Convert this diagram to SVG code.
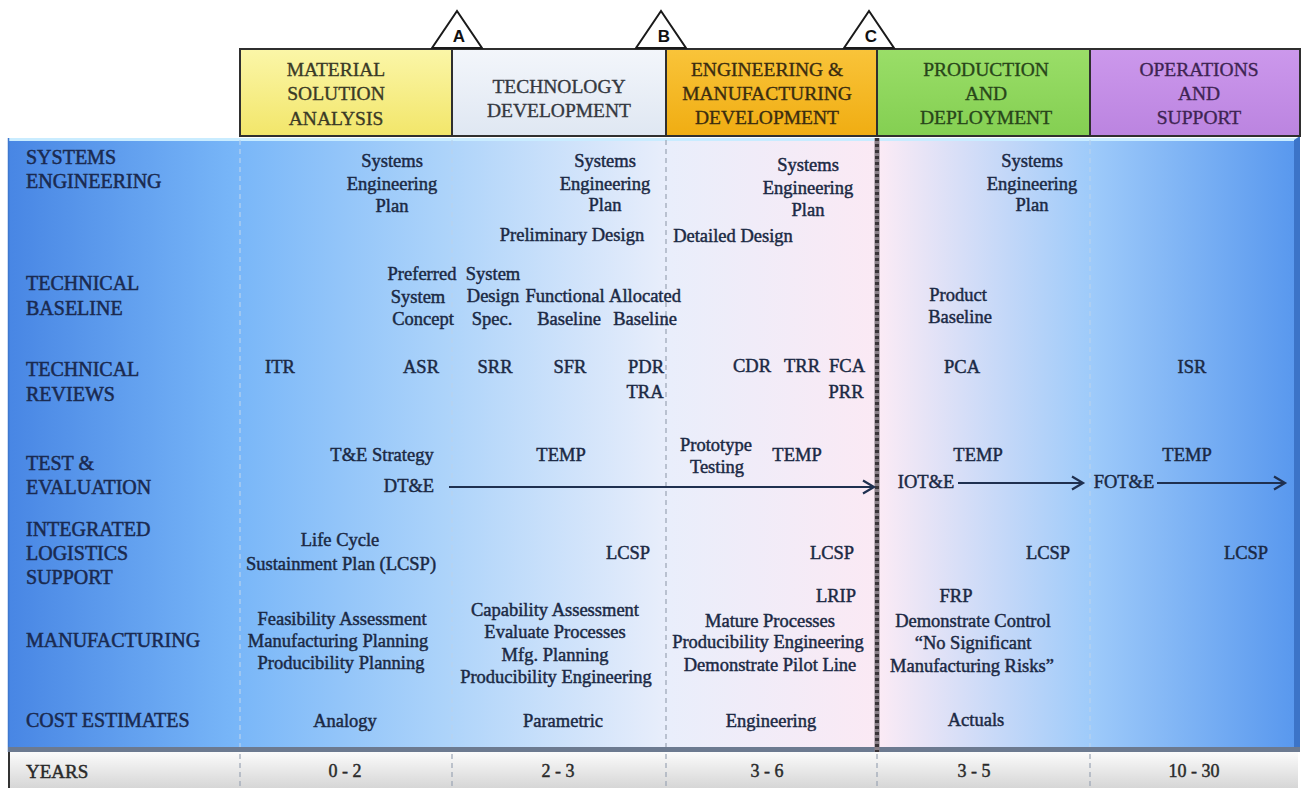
<svg xmlns="http://www.w3.org/2000/svg" width="1303" height="788" viewBox="0 0 1303 788" font-family="'Liberation Serif', 'Times New Roman', serif">
  <defs>
    <style>
      text { font-family: "Liberation Serif", "Times New Roman", serif; }
      .lbl { font-size: 20px; fill: #1a2a50; stroke: #1a2a50; stroke-width: 0.5; }
      .txt { font-size: 18.5px; fill: #1b2944; text-anchor: middle; stroke: #1b2944; stroke-width: 0.45; }
      .hdr { font-size: 19.5px; text-anchor: middle; stroke-width: 0.35; }
      .yr { font-size: 18px; fill: #2a2a2a; text-anchor: middle; stroke: #2a2a2a; stroke-width: 0.45; }
      .box { stroke: #2f2f2f; stroke-width: 2; }
      .tri { fill: #ffffff; stroke: #1a1a1a; stroke-width: 2; stroke-linejoin: miter; }
      .ms { font-family: "Liberation Sans", Arial, sans-serif; font-size: 17px; font-weight: bold; fill: #111; text-anchor: middle; }
      .div { stroke: #9aa4b4; stroke-width: 1.2; stroke-dasharray: 5 4; fill: none; }
      .divl { stroke: #b8d2ee; stroke-width: 1.2; stroke-dasharray: 5 4; fill: none; }
      .arrow { stroke: #1f3050; stroke-width: 2.2; fill: none; marker-end: url(#chev); }
    </style>
    <marker id="chev" markerUnits="userSpaceOnUse" markerWidth="16" markerHeight="16" refX="13" refY="8" orient="auto">
      <path d="M2,1.5 L13,8 L2,14.5" fill="none" stroke="#1f3050" stroke-width="2.2"/>
    </marker>
    <linearGradient id="gLeft" gradientUnits="userSpaceOnUse" x1="8" y1="0" x2="877" y2="0">
      <stop offset="0" stop-color="#4886e4"/>
      <stop offset="0.26" stop-color="#78b6f8"/>
      <stop offset="0.5" stop-color="#acd3fa"/>
      <stop offset="0.76" stop-color="#e9eefb"/>
      <stop offset="1" stop-color="#fbe9f4"/>
    </linearGradient>
    <linearGradient id="gRight" gradientUnits="userSpaceOnUse" x1="877" y1="0" x2="1300" y2="0">
      <stop offset="0" stop-color="#fcebf5"/>
      <stop offset="0.5" stop-color="#9fcbfa"/>
      <stop offset="1" stop-color="#5797ee"/>
    </linearGradient>
    <linearGradient id="gYears" x1="0" y1="0" x2="0" y2="1">
      <stop offset="0" stop-color="#fbfbfb"/>
      <stop offset="1" stop-color="#d6d6d6"/>
    </linearGradient>
    <linearGradient id="gYellow" x1="0" y1="0" x2="0" y2="1">
      <stop offset="0" stop-color="#fbf6a8"/>
      <stop offset="1" stop-color="#f2e66a"/>
    </linearGradient>
    <linearGradient id="gPale" x1="0" y1="0" x2="0" y2="1">
      <stop offset="0" stop-color="#f3f6fb"/>
      <stop offset="1" stop-color="#dfe7f2"/>
    </linearGradient>
    <linearGradient id="gOrange" x1="0" y1="0" x2="0" y2="1">
      <stop offset="0" stop-color="#f9c43a"/>
      <stop offset="1" stop-color="#f0ad12"/>
    </linearGradient>
    <linearGradient id="gGreen" x1="0" y1="0" x2="0" y2="1">
      <stop offset="0" stop-color="#9ade68"/>
      <stop offset="1" stop-color="#84cf52"/>
    </linearGradient>
    <linearGradient id="gPurple" x1="0" y1="0" x2="0" y2="1">
      <stop offset="0" stop-color="#cc98ec"/>
      <stop offset="1" stop-color="#bb84e0"/>
    </linearGradient>
  </defs>

  <rect width="1303" height="788" fill="#ffffff"/>

  <!-- main panel -->
  <g id="panel">
    <rect x="8" y="138" width="869" height="612" fill="url(#gLeft)"/>
    <rect x="877" y="138" width="423" height="612" fill="url(#gRight)"/>
    <line x1="8" y1="139.5" x2="1300" y2="139.5" stroke="#c9ecff" stroke-width="3"/>
    <line x1="8.5" y1="138" x2="8.5" y2="752" stroke="#3f78cf" stroke-width="1.5"/>
    <polygon points="1294,140 1300,136 1300,752 1294,748" fill="#3c74c8"/>
    <rect x="8" y="747" width="1292" height="5" fill="#6c7a90"/>
  </g>

  <!-- years bar -->
  <g id="years">
    <rect x="8" y="752" width="1290" height="36" fill="url(#gYears)"/>
    <line x1="9" y1="752" x2="9" y2="788" stroke="#333" stroke-width="2"/>
    <text class="yr" x="26" y="778" style="text-anchor:start;font-size:19px">YEARS</text>
    <text class="yr" x="345" y="777">0 - 2</text>
    <text class="yr" x="558" y="777">2 - 3</text>
    <text class="yr" x="767" y="777">3 - 6</text>
    <text class="yr" x="974" y="777">3 - 5</text>
    <text class="yr" x="1194" y="777">10 - 30</text>
  </g>

  <!-- column dividers -->
  <g id="dividers">
    <line class="divl" x1="240" y1="140" x2="240" y2="747"/>
    <line class="divl" x1="452" y1="140" x2="452" y2="747"/>
    <line class="div" x1="666" y1="140" x2="666" y2="747"/>
    <line class="divl" x1="1090" y1="140" x2="1090" y2="747"/>
    <line class="div" x1="240" y1="754" x2="240" y2="788"/>
    <line class="div" x1="452" y1="754" x2="452" y2="788"/>
    <line class="div" x1="666" y1="754" x2="666" y2="788"/>
    <line class="div" x1="877" y1="754" x2="877" y2="788"/>
    <line class="div" x1="1090" y1="754" x2="1090" y2="788"/>
    <line x1="877" y1="138" x2="877" y2="752" stroke="#8a8088" stroke-width="5"/>
    <line x1="877" y1="138" x2="877" y2="752" stroke="#3a3438" stroke-width="4" stroke-dasharray="3 3"/>
  </g>

  <!-- phase header boxes -->
  <g id="phase-msa">
    <rect class="box" x="240" y="49" width="212" height="87" fill="url(#gYellow)"/>
    <text class="hdr" x="336" y="76" fill="#3a3a26" stroke="#3a3a26">MATERIAL</text>
    <text class="hdr" x="336" y="100" fill="#3a3a26" stroke="#3a3a26">SOLUTION</text>
    <text class="hdr" x="336" y="125" fill="#3a3a26" stroke="#3a3a26">ANALYSIS</text>
  </g>
  <g id="phase-td">
    <rect class="box" x="452" y="49" width="214" height="87" fill="url(#gPale)"/>
    <text class="hdr" x="559" y="93" fill="#34383f" stroke="#34383f">TECHNOLOGY</text>
    <text class="hdr" x="559" y="117" fill="#34383f" stroke="#34383f">DEVELOPMENT</text>
  </g>
  <g id="phase-emd">
    <rect class="box" x="666" y="49" width="211" height="87" fill="url(#gOrange)"/>
    <text class="hdr" x="767" y="76" fill="#3a2c10" stroke="#3a2c10">ENGINEERING &amp;</text>
    <text class="hdr" x="767" y="100" fill="#3a2c10" stroke="#3a2c10">MANUFACTURING</text>
    <text class="hdr" x="767" y="124" fill="#3a2c10" stroke="#3a2c10">DEVELOPMENT</text>
  </g>
  <g id="phase-pd">
    <rect class="box" x="877" y="49" width="213" height="87" fill="url(#gGreen)"/>
    <text class="hdr" x="986" y="76" fill="#28461a" stroke="#28461a">PRODUCTION</text>
    <text class="hdr" x="986" y="100" fill="#28461a" stroke="#28461a">AND</text>
    <text class="hdr" x="986" y="124" fill="#28461a" stroke="#28461a">DEPLOYMENT</text>
  </g>
  <g id="phase-os">
    <rect class="box" x="1090" y="49" width="210" height="87" fill="url(#gPurple)"/>
    <text class="hdr" x="1199" y="76" fill="#3e2452" stroke="#3e2452">OPERATIONS</text>
    <text class="hdr" x="1199" y="100" fill="#3e2452" stroke="#3e2452">AND</text>
    <text class="hdr" x="1199" y="124" fill="#3e2452" stroke="#3e2452">SUPPORT</text>
  </g>

  <!-- milestones -->
  <g id="milestone-a">
    <polygon class="tri" points="432,48 457,11 482,48"/>
    <text class="ms" x="459" y="42">A</text>
  </g>
  <g id="milestone-b">
    <polygon class="tri" points="636,48 661,11 686,48"/>
    <text class="ms" x="664" y="42">B</text>
  </g>
  <g id="milestone-c">
    <polygon class="tri" points="844,48 869,11 894,48"/>
    <text class="ms" x="871" y="42">C</text>
  </g>

  <!-- row labels -->
  <g id="row-labels">
    <text class="lbl" x="26" y="164">SYSTEMS</text>
    <text class="lbl" x="26" y="188">ENGINEERING</text>
    <text class="lbl" x="26" y="290">TECHNICAL</text>
    <text class="lbl" x="26" y="315">BASELINE</text>
    <text class="lbl" x="26" y="376">TECHNICAL</text>
    <text class="lbl" x="26" y="401">REVIEWS</text>
    <text class="lbl" x="26" y="470">TEST &amp;</text>
    <text class="lbl" x="26" y="494">EVALUATION</text>
    <text class="lbl" x="26" y="536">INTEGRATED</text>
    <text class="lbl" x="26" y="560">LOGISTICS</text>
    <text class="lbl" x="26" y="584">SUPPORT</text>
    <text class="lbl" x="26" y="647">MANUFACTURING</text>
    <text class="lbl" x="26" y="727">COST ESTIMATES</text>
  </g>

  <!-- Material Solution Analysis column -->
  <g id="col-msa">
    <text class="txt" x="392" y="167">Systems</text>
    <text class="txt" x="392" y="190">Engineering</text>
    <text class="txt" x="392" y="212">Plan</text>
    <text class="txt" x="422" y="280">Preferred</text>
    <text class="txt" x="418" y="303">System</text>
    <text class="txt" x="423" y="325">Concept</text>
    <text class="txt" x="280" y="373">ITR</text>
    <text class="txt" x="421" y="373">ASR</text>
    <text class="txt" x="382" y="461">T&amp;E Strategy</text>
    <text class="txt" x="409" y="492">DT&amp;E</text>
    <text class="txt" x="340" y="546">Life Cycle</text>
    <text class="txt" x="341" y="570">Sustainment Plan (LCSP)</text>
    <text class="txt" x="342" y="625">Feasibility Assessment</text>
    <text class="txt" x="338" y="647">Manufacturing Planning</text>
    <text class="txt" x="341" y="669">Producibility Planning</text>
    <text class="txt" x="345" y="727">Analogy</text>
  </g>

  <!-- Technology Development column -->
  <g id="col-td">
    <text class="txt" x="605" y="167">Systems</text>
    <text class="txt" x="605" y="190">Engineering</text>
    <text class="txt" x="605" y="211">Plan</text>
    <text class="txt" x="572" y="241">Preliminary Design</text>
    <text class="txt" x="493" y="280">System</text>
    <text class="txt" x="493" y="302">Design</text>
    <text class="txt" x="492" y="325">Spec.</text>
    <text class="txt" x="565" y="302">Functional</text>
    <text class="txt" x="569" y="325">Baseline</text>
    <text class="txt" x="645" y="302">Allocated</text>
    <text class="txt" x="645" y="325">Baseline</text>
    <text class="txt" x="495" y="373">SRR</text>
    <text class="txt" x="570" y="373">SFR</text>
    <text class="txt" x="646" y="373">PDR</text>
    <text class="txt" x="645" y="398">TRA</text>
    <text class="txt" x="561" y="461">TEMP</text>
    <text class="txt" x="628" y="559">LCSP</text>
    <text class="txt" x="555" y="616">Capability Assessment</text>
    <text class="txt" x="555" y="638">Evaluate Processes</text>
    <text class="txt" x="555" y="661">Mfg. Planning</text>
    <text class="txt" x="556" y="683">Producibility Engineering</text>
    <text class="txt" x="563" y="727">Parametric</text>
  </g>

  <!-- Engineering & Manufacturing Development column -->
  <g id="col-emd">
    <text class="txt" x="808" y="171">Systems</text>
    <text class="txt" x="808" y="194">Engineering</text>
    <text class="txt" x="808" y="216">Plan</text>
    <text class="txt" x="733" y="242">Detailed Design</text>
    <text class="txt" x="752" y="372">CDR</text>
    <text class="txt" x="802" y="372">TRR</text>
    <text class="txt" x="847" y="372">FCA</text>
    <text class="txt" x="846" y="398">PRR</text>
    <text class="txt" x="716" y="451">Prototype</text>
    <text class="txt" x="717" y="473">Testing</text>
    <text class="txt" x="797" y="461">TEMP</text>
    <text class="txt" x="832" y="559">LCSP</text>
    <text class="txt" x="836" y="602">LRIP</text>
    <text class="txt" x="770" y="627">Mature Processes</text>
    <text class="txt" x="768" y="648">Producibility Engineering</text>
    <text class="txt" x="770" y="671">Demonstrate Pilot Line</text>
    <text class="txt" x="771" y="727">Engineering</text>
  </g>

  <!-- Production & Deployment column -->
  <g id="col-pd">
    <text class="txt" x="1032" y="167">Systems</text>
    <text class="txt" x="1032" y="190">Engineering</text>
    <text class="txt" x="1032" y="211">Plan</text>
    <text class="txt" x="958" y="301">Product</text>
    <text class="txt" x="960" y="323">Baseline</text>
    <text class="txt" x="962" y="373">PCA</text>
    <text class="txt" x="978" y="461">TEMP</text>
    <text class="txt" x="926" y="488">IOT&amp;E</text>
    <text class="txt" x="1048" y="559">LCSP</text>
    <text class="txt" x="956" y="602">FRP</text>
    <text class="txt" x="973" y="627">Demonstrate Control</text>
    <text class="txt" x="973" y="649">“No Significant</text>
    <text class="txt" x="972" y="672">Manufacturing Risks”</text>
    <text class="txt" x="976" y="726">Actuals</text>
  </g>

  <!-- Operations & Support column -->
  <g id="col-os">
    <text class="txt" x="1192" y="373">ISR</text>
    <text class="txt" x="1187" y="461">TEMP</text>
    <text class="txt" x="1124" y="488">FOT&amp;E</text>
    <text class="txt" x="1246" y="559">LCSP</text>
  </g>

  <!-- test & evaluation arrows -->
  <g id="connectors">
    <line class="arrow" x1="449" y1="487" x2="874" y2="487"/>
    <line class="arrow" x1="958" y1="483" x2="1083" y2="483"/>
    <line class="arrow" x1="1157" y1="483" x2="1285" y2="483"/>
  </g>
</svg>
